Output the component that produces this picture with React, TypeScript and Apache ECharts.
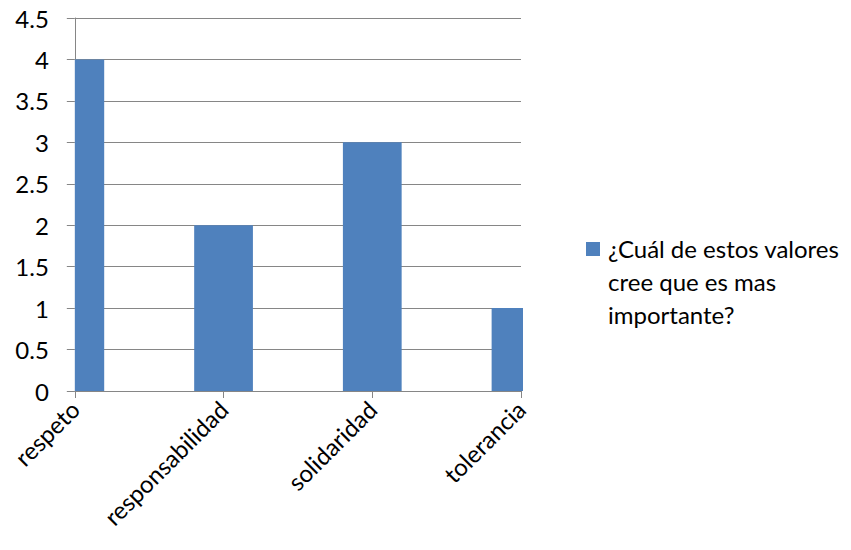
import React, { useEffect, useRef } from "react";
import * as echarts from "echarts";

const categories = ["respeto", "responsabilidad", "solidaridad", "tolerancia"];
const values = [4, 2, 3, 1];
const seriesName = "¿Cuál de estos valores cree que es mas importante?";
const legendLines = ["¿Cuál de estos valores", "cree que es mas", "importante?"];
const barColor = "#4f81bd";

export default function App() {
  const ref = useRef<HTMLDivElement>(null);
  useEffect(() => {
    if (!ref.current) return;
    const chart = echarts.init(ref.current, null, { renderer: "svg" });
    const font = "Lato, 'Open Sans', sans-serif";
    chart.setOption({
      animation: false,
      textStyle: { fontFamily: font },
      grid: { left: 66, right: 322, top: 18, bottom: 151 },
      legend: { show: false },
      xAxis: {
        type: "category",
        data: categories,
        boundaryGap: false,
        axisLine: { show: true, lineStyle: { color: "#868686", width: 1 } },
        axisTick: { show: true, length: 7, lineStyle: { color: "#868686" } },
        axisLabel: { rotate: 45, fontSize: 24, color: "#000", margin: 14, fontFamily: font, interval: 0 },
        splitLine: { show: false },
      },
      yAxis: {
        type: "value",
        min: 0,
        max: 4.5,
        interval: 0.5,
        axisLine: { show: true, lineStyle: { color: "#868686", width: 1 } },
        axisTick: { show: true, length: 8, lineStyle: { color: "#868686" } },
        axisLabel: { fontSize: 24, color: "#000", margin: 26, fontFamily: font },
        splitLine: { show: true, lineStyle: { color: "#868686", width: 1 } },
      },
      series: [
        {
          type: "custom",
          name: seriesName,
          data: categories.map((c, i) => [i, values[i]]),
          encode: { x: 0, y: 1 },
          renderItem: (params: any, api: any) => {
            const idx = api.value(0);
            const v = api.value(1);
            const top = api.coord([idx, v]);
            const base = api.coord([idx, 0]);
            const w = api.size([1, 0])[0] * 0.395;
            const cs = params.coordSys;
            const rect = echarts.graphic.clipRectByRect(
              { x: top[0] - w / 2, y: top[1], width: w, height: base[1] - top[1] },
              { x: cs.x, y: cs.y, width: cs.width + 2, height: cs.height }
            );
            if (!rect) return null;
            return { type: "rect", shape: rect, style: { fill: barColor } };
          },
        },
      ],
      graphic: [
        { type: "rect", left: 578, top: 242, shape: { width: 14, height: 14 }, style: { fill: barColor } },
        {
          type: "text",
          left: 600,
          top: 232,
          style: {
            text: legendLines.join("\n"),
            fontSize: 24,
            lineHeight: 33,
            fill: "#000",
            fontFamily: font,
          },
        },
      ],
    });
    return () => chart.dispose();
  }, []);
  return <div ref={ref} style={{ width: 835, height: 542, marginTop: -8 }} />;
}
